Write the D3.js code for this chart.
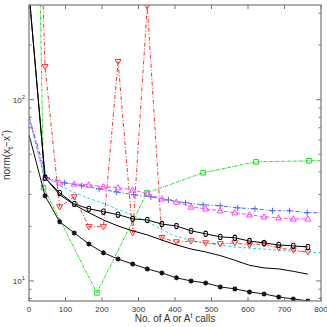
<!DOCTYPE html>
<html><head><meta charset="utf-8">
<script src="https://cdn.jsdelivr.net/npm/d3@7"></script>
<style>body{margin:0;background:#fff}svg{display:block}text{font-family:"Liberation Sans",Arial,sans-serif}</style>
</head><body>
<svg id="c" width="327" height="327"></svg>
<script>
// ---- data ----
const xTickVals = [0,100,200,300,400,500,600,700,800];
const yMajor = [10,100];
const yMinor = [8,9,20,30,40,50,60,70,80,90,200,300];
const xCalls = [0,44,84,124,164,204,244,284,324,364,404,444,484,524,564,604,644,684,724,764];
const starVals = [64.1,29.5,21.2,18.4,16.0,14.3,13.2,12.4,11.65,11.07,10.4,10.0,9.75,9.27,9.04,8.70,8.48,8.16,7.96,7.76];
const plainVals = [390,37.1,29.9,26.3,23.8,21.7,20.1,18.9,17.95,16.8,15.8,15.0,14.45,13.8,13.0,12.2,11.8,11.65,11.3,10.9];
const circVals = [390,37.1,30.6,26.6,25.0,24.1,23.2,22.0,21.7,20.6,20.1,18.9,18.2,17.5,17.3,16.6,16.2,15.8,15.6,15.4];
const magVals = [80.5,37.1,34.8,34.3,33.9,33.1,32.7,31.8,30.3,28.4,27.3,25.6,25.0,24.4,23.8,23.2,22.6,22.3,22.0,22.0];
const redVals = [100000,152,25.6,29.1,19.9,19.9,162,18.4,330,17.3,16.4,16.6,16.2,16.0,16.2,15.8,16.0,15.2,14.8,14.45];
const blueCalls = [0,49,97,144,192,239,287,334,382,429,477,524,572,619,667,714,762,809];
const blueVals = [80.5,37.1,34.8,33.5,32.2,31.0,29.9,29.1,28.0,27.0,26.3,26.0,25.3,25.0,24.4,24.4,23.8,23.8];
const cyanCalls = [0,40,80,120,160,200,240,280,320,360,400,440,480,520,560,600,640,680,720,760,800];
const cyanVals = [80.5,38.0,33.9,31.0,28.7,27.0,25.0,23.2,21.45,19.4,17.7,16.8,16.2,15.8,15.4,15.2,15.0,14.8,14.6,14.45,14.3];
const greenCalls = [0,40,186,323,477,622,767,912];
const greenVals = [1000000,32.7,8.59,30.6,39.5,45.4,46.0,46.6];

// ---- layout ----
const L=29,R=321,T=5,B=301;
const svg=d3.select("#c");
const x=d3.scaleLinear().domain([0,800]).range([L,R]);
const y=d3.scaleLog().domain([7.75,333]).range([B,T]);

svg.append("clipPath").attr("id","clip").append("rect").attr("x",L).attr("y",T).attr("width",R-L).attr("height",B-T);
const g=svg.append("g").attr("clip-path","url(#clip)");

function series(xs,vs,color,dash,marker){
  const pts=xs.map((d,i)=>[d,vs[i]]);
  g.append("path").datum(pts)
   .attr("d",d3.line().x(d=>x(d[0])).y(d=>y(d[1])))
   .attr("fill","none").attr("stroke",color).attr("stroke-width",1)
   .attr("stroke-dasharray",dash||null);
  if(!marker) return;
  const m=g.append("g");
  pts.slice(1).forEach(d=>{
    const cx=x(d[0]),cy=y(d[1]);
    let p;
    if(marker==="star") p=`M${cx-2.5},${cy}h5M${cx},${cy-2.5}v5M${cx-1.8},${cy-1.8}l3.6,3.6M${cx-1.8},${cy+1.8}l3.6,-3.6`;
    else if(marker==="plus") p=`M${cx-3},${cy}h6M${cx},${cy-3}v6`;
    else if(marker==="circ") p=d3.symbol(d3.symbolCircle,18)();
    else if(marker==="tri") p=`M${cx},${cy-3}L${cx+3},${cy+2.2}L${cx-3},${cy+2.2}Z`;
    else if(marker==="vtri") p=`M${cx},${cy+3}L${cx+3},${cy-2.2}L${cx-3},${cy-2.2}Z`;
    else if(marker==="sq") p=`M${cx-2.3},${cy-2.3}h4.6v4.6h-4.6Z`;
    const el=m.append("path").attr("fill","none").attr("stroke",color).attr("stroke-width",marker==="star"?1.3:1);
    if(marker==="circ") el.attr("d",p).attr("transform",`translate(${cx},${cy}) scale(0.8,1.1)`);
    else el.attr("d",p);
  });
}

series(greenCalls,greenVals,"#22dd22","3,1,1,1","sq");
series(cyanCalls,cyanVals,"#22dddd","3,2",null);
series(blueCalls,blueVals,"#4466ff","4,2,1,2","plus");
series(xCalls,magVals,"#ff44ff","4,2","tri");
series(xCalls,redVals,"#ff3333","4,2,1,2","vtri");
series(xCalls,plainVals,"#000","",null);
series(xCalls,circVals,"#000","","circ");
series(xCalls,starVals,"#111","","star");

// ---- axes box ----
const ax=svg.append("g").attr("stroke","#777").attr("fill","none");
ax.append("rect").attr("x",L).attr("y",T).attr("width",R-L).attr("height",B-T).attr("stroke-width",1.2);
xTickVals.forEach(v=>{
  ax.append("line").attr("x1",x(v)).attr("x2",x(v)).attr("y1",B).attr("y2",B-4);
  ax.append("line").attr("x1",x(v)).attr("x2",x(v)).attr("y1",T).attr("y2",T+4);
  svg.append("text").attr("x",x(v)).attr("y",B+11).attr("text-anchor","middle").attr("font-size",8).attr("fill","#333").text(v);
});
yMajor.forEach(v=>{
  ax.append("line").attr("x1",L).attr("x2",L+5).attr("y1",y(v)).attr("y2",y(v));
  ax.append("line").attr("x1",R).attr("x2",R-5).attr("y1",y(v)).attr("y2",y(v));
  const t=svg.append("text").attr("x",L-4).attr("y",y(v)+3).attr("text-anchor","end").attr("font-size",8).attr("fill","#333");
  t.append("tspan").text("10");
  t.append("tspan").attr("dy",-4).attr("font-size",6).text(Math.round(Math.log10(v)));
});
yMinor.forEach(v=>{
  ax.append("line").attr("x1",L).attr("x2",L+2.5).attr("y1",y(v)).attr("y2",y(v));
  ax.append("line").attr("x1",R).attr("x2",R-2.5).attr("y1",y(v)).attr("y2",y(v));
});

// ---- labels ----
const xl=svg.append("text").attr("x",175).attr("y",322).attr("text-anchor","middle").attr("font-size",10).attr("fill","#333");
xl.append("tspan").text("No. of A or A");
xl.append("tspan").attr("dy",-4).attr("font-size",7).text("t");
xl.append("tspan").attr("dy",4).text(" calls");
const yl=svg.append("text").attr("transform","translate(10,155) rotate(-90)").attr("text-anchor","middle").attr("font-size",10).attr("fill","#333");
yl.append("tspan").text("norm(x");
yl.append("tspan").attr("dy",3).attr("font-size",7).text("t");
yl.append("tspan").attr("dy",-3).text("−x");
yl.append("tspan").attr("dy",-4).attr("font-size",7).text("*");
yl.append("tspan").attr("dy",4).text(")");
</script>
</body></html>
